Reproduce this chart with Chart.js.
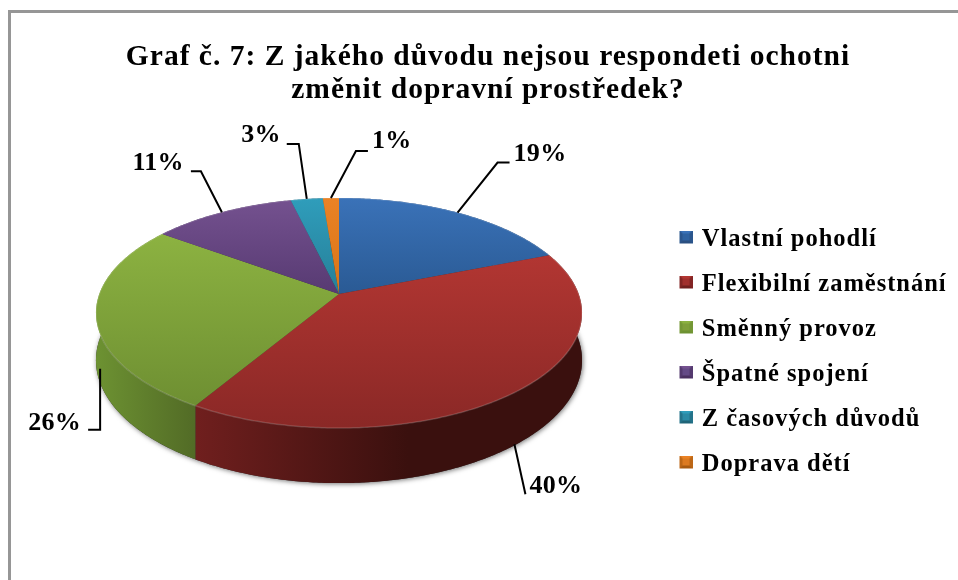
<!DOCTYPE html>
<html><head><meta charset="utf-8">
<style>html,body{margin:0;padding:0;background:#fff}#w{width:958px;height:580px;position:relative}</style>
<script src="https://cdn.jsdelivr.net/npm/chart.js@4"></script></head>
<body><div id="w"><canvas id="c" width="958" height="580"></canvas></div>
<script>
const titleLines = ["Graf č. 7: Z jakého důvodu nejsou respondeti ochotni", "změnit dopravní prostředek?"];
const categories = ["Vlastní pohodlí", "Flexibilní zaměstnání", "Směnný provoz", "Špatné spojení", "Z časových důvodů", "Doprava dětí"];
const shares = [19, 39.6, 26.4, 11.25, 2.5, 1.25];
const legendColors = ["#2f62a0", "#a12f2d", "#7f9f3a", "#644a86", "#2b8aa5", "#dc7a20"];
const topLight = ["#3a72b8", "#b23632", "#8cb241", "#74518f", "#2f9dbb", "#ea8225"];
const topDark = ["#2a5a94", "#8a2826", "#6e8f32", "#573a72", "#267f98", "#d87518"];
const sideFrom = ["#2a4f80", "#701f1e", "#6d9232", "#4a3060", "#1f6478", "#a85a10"];
const sideTo = ["#1f3c60", "#3a100e", "#526b26", "#3a2650", "#184c5c", "#8a4a0d"];
// leader layout relative to the rim anchor: elbow dx,dy / end dx,dy / text dx,dy / start nudge dx,dy
const leaders = [[40,-50,52,-50,4,-8,0,0],[9,50,9,50,4,-8,-2,0],[4,65,-8,65,-7,-6,4,4],[-21,-41,-31,-41,-7,-8,0,0],[-8,-55,-20,-55,-6,-9,0,0],[25,-47,37,-47,4,-10,0,0]];
const geo = {cx:339, cy:294, a:239.7, b:111.9, k:0.165, depth:46};
const spacing = '1px';
const legendLeft = 656, legendShift = 52;
function proj(t,h){const w=1-geo.k*Math.sin(t);return {x:geo.cx+geo.a*Math.cos(t)/w,y:geo.cy+geo.b*Math.sin(t)/w+h*geo.depth/w};}
function rim(ctx,a0,a1,h,first){const n=Math.max(2,Math.ceil(Math.abs(a1-a0)/0.01));for(let i=0;i<=n;i++){const p=proj(a0+(a1-a0)*i/n,h);if(i===0&&first)ctx.moveTo(p.x,p.y);else ctx.lineTo(p.x,p.y);}}
function bevelIcon(col,lt,dk){const s=document.createElement('canvas');s.width=19;s.height=19;const x=s.getContext('2d');x.translate(6,0);
  x.fillStyle=col;x.fillRect(0,0,13,13);
  x.fillStyle=lt;x.beginPath();x.moveTo(0,0);x.lineTo(13,0);x.lineTo(10,3);x.lineTo(3,3);x.closePath();x.fill();
  x.fillStyle=dk;x.beginPath();x.moveTo(0,13);x.lineTo(13,13);x.lineTo(10,10);x.lineTo(3,10);x.closePath();x.fill();
  x.globalAlpha=.6;x.beginPath();x.moveTo(0,0);x.lineTo(3,3);x.lineTo(3,10);x.lineTo(0,13);x.closePath();x.fill();
  x.beginPath();x.moveTo(13,0);x.lineTo(10,3);x.lineTo(10,10);x.lineTo(13,13);x.closePath();x.fill();return s;}
const icons = legendColors.map((c,i)=>bevelIcon(c,topLight[i],sideFrom[i]));
const pie3d = {
  id:'pie3d',
  beforeLayout(chart){chart.ctx.letterSpacing=spacing;},
  afterLayout(chart){const l=chart.legend,dx=legendLeft-l.left;l.left+=dx;l.right+=dx;l.top+=legendShift;l.bottom+=legendShift;},
  beforeDraw(chart){const c=chart.ctx;c.letterSpacing=spacing;c.save();c.fillStyle='#fff';c.fillRect(0,0,958,580);c.fillStyle='#969696';c.fillRect(8,10,950,3);c.fillRect(8,10,3,570);c.restore();},
  beforeDatasetsDraw(chart){
    const c=chart.ctx, arcs=chart.getDatasetMeta(0).data;
    c.save();
    c.save();c.shadowColor='rgba(0,0,0,0.55)';c.shadowBlur=5;c.shadowOffsetX=1;c.shadowOffsetY=1;c.fillStyle='#333';
    c.beginPath();rim(c,0,Math.PI*2,1,true);c.closePath();c.fill();c.restore();
    arcs.forEach((e,i)=>{
      const a0=e.startAngle,a1=e.endAngle;
      const xs=[];for(let t=a0;t<=a1;t+=0.02){xs.push(proj(t,0).x);}xs.push(proj(a1,0).x);
      const g=c.createLinearGradient(Math.min(...xs),0,Math.max(...xs),0);
      g.addColorStop(0,sideFrom[i]);if(i===1)g.addColorStop(0.55,sideTo[i]);g.addColorStop(1,sideTo[i]);
      c.fillStyle=g;c.beginPath();rim(c,a0,a1,0,true);rim(c,a1,a0,1,false);c.closePath();c.fill();
    });
    arcs.forEach((e,i)=>{
      const a0=e.startAngle,a1=e.endAngle;
      let lo=geo.cy,hi=geo.cy;for(let t=a0;t<=a1;t+=0.02){const y=proj(t,0).y;lo=Math.min(lo,y);hi=Math.max(hi,y);}
      const g=c.createLinearGradient(0,lo,0,hi);g.addColorStop(0,topLight[i]);g.addColorStop(1,topDark[i]);
      c.fillStyle=g;c.beginPath();c.moveTo(geo.cx,geo.cy);rim(c,a0,a1,0,false);c.closePath();c.fill();
      c.strokeStyle='rgba(255,255,255,0.16)';c.lineWidth=1.5;c.beginPath();rim(c,a0,a1,0,true);c.stroke();
    });
    c.strokeStyle='#000';c.lineWidth=2;c.lineJoin='miter';c.fillStyle='#000';c.font='bold 26px "Liberation Serif"';c.textBaseline='middle';c.letterSpacing='0.3px';
    arcs.forEach((e,i)=>{
      const m=(e.startAngle+e.endAngle)/2,front=Math.sin(m)>0,an=proj(m,front?1:0),L=leaders[i];
      c.beginPath();c.moveTo(an.x+L[6],an.y+L[7]);c.lineTo(an.x+L[0],an.y+L[1]);c.lineTo(an.x+L[2],an.y+L[3]);c.stroke();
      const txt=Math.round(shares[i])+'%';
      c.textAlign=L[4]>0?'left':'right';c.fillText(txt,an.x+L[2]+L[4],an.y+L[3]+L[5]);
    });
    c.restore();
    return false;
  }
};
new Chart(document.getElementById('c'),{
  type:'pie',
  data:{labels:categories,datasets:[{data:shares,backgroundColor:legendColors,borderWidth:0}]},
  options:{responsive:false,animation:false,events:[],
    layout:{padding:{left:18,right:0,top:41,bottom:20}},
    plugins:{
      tooltip:{enabled:false},
      title:{display:true,text:titleLines,color:'#000',font:{family:'"Liberation Serif"',size:29.5,weight:'bold',lineHeight:1.12},padding:{top:0,bottom:0}},
      legend:{position:'right',labels:{color:'#000',font:{family:'"Liberation Serif"',size:24.5,weight:'bold'},boxWidth:13,boxHeight:13,padding:20.5,usePointStyle:true,
        generateLabels(ch){return Chart.overrides.doughnut.plugins.legend.labels.generateLabels(ch).map((it,i)=>({...it,pointStyle:icons[i]}));}}}
    }},
  plugins:[pie3d]
});
</script></body></html>
